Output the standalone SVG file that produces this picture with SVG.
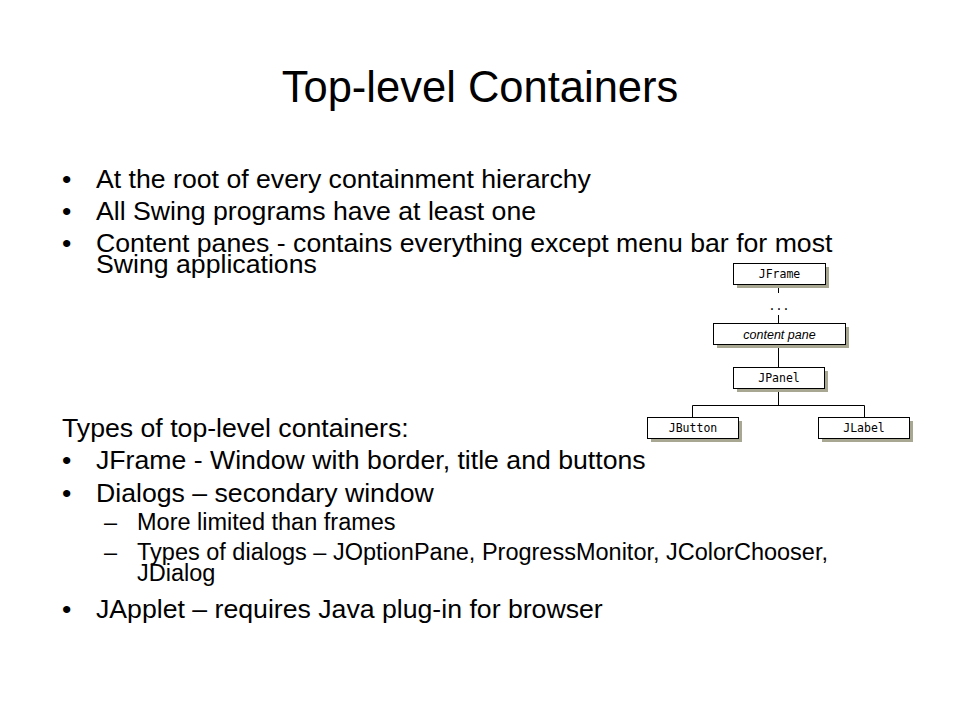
<svg xmlns="http://www.w3.org/2000/svg" width="960" height="720" viewBox="0 0 960 720">
<style>
.t{font-family:"Liberation Sans",Arial,sans-serif;fill:#000}
.b{font-size:26.67px}
.s{font-size:23.5px}
.box{fill:#fff;stroke:#000;stroke-width:1}
.sh{fill:#a8a892}
.lbl{font-family:"DejaVu Sans Mono","Liberation Mono",monospace;font-size:11.5px;fill:#000;text-anchor:middle}
.it{font-family:"Liberation Sans",Arial,sans-serif;font-style:italic;font-size:12.5px;fill:#000;text-anchor:middle}
.ln{stroke:#000;stroke-width:1;fill:none}
</style>
<rect width="960" height="720" fill="#fff"/>
<text class="t" x="480" y="102" font-size="43.5" text-anchor="middle">Top-level Containers</text>
<g id="bullets">
<text class="t b" x="62" y="188">•</text><text class="t b" x="96" y="188">At the root of every containment hierarchy</text>
<text class="t b" x="62" y="220">•</text><text class="t b" x="96" y="220">All Swing programs have at least one</text>
<text class="t b" x="62" y="252">•</text><text class="t b" x="96" y="252">Content panes - contains everything except menu bar for most</text>
<text class="t b" x="96" y="273">Swing applications</text>
<text class="t b" x="62" y="437">Types of top-level containers:</text>
<text class="t b" x="62" y="469">•</text><text class="t b" x="96" y="469">JFrame - Window with border, title and buttons</text>
<text class="t b" x="62" y="502">•</text><text class="t b" x="96" y="502">Dialogs – secondary window</text>
<text class="t s" x="104" y="530">–</text><text class="t s" x="137" y="530">More limited than frames</text>
<text class="t s" x="104" y="560">–</text><text class="t s" x="137" y="560">Types of dialogs – JOptionPane, ProgressMonitor, JColorChooser,</text>
<text class="t s" x="137" y="581">JDialog</text>
<text class="t b" x="62" y="618">•</text><text class="t b" x="96" y="618">JApplet – requires Java plug-in for browser</text>
</g>
<g id="connectors">
<path class="ln" d="M778.5 284V293M778.5 315V323M778.5 344V367M778.5 388V405.5M692.5 405.5H864.5M692.5 405.5V417M864.5 405.5V417"/>
<text class="lbl" x="779" y="310" font-size="13">...</text>
</g>
<g id="jframe">
<rect class="sh" x="737" y="267" width="92" height="21"/>
<rect class="box" x="733.5" y="263.5" width="92" height="21"/>
<text class="lbl" x="779.5" y="278">JFrame</text>
</g>
<g id="contentpane">
<rect class="sh" x="717" y="327" width="132" height="21"/>
<rect class="box" x="713.5" y="323.5" width="132" height="21"/>
<text class="it" x="779.5" y="338.5">content pane</text>
</g>
<g id="jpanel">
<rect class="sh" x="737" y="371" width="91" height="21"/>
<rect class="box" x="733.5" y="367.5" width="91" height="21"/>
<text class="lbl" x="779" y="382">JPanel</text>
</g>
<g id="jbutton">
<rect class="sh" x="651" y="421" width="91" height="21"/>
<rect class="box" x="647.5" y="417.5" width="91" height="21"/>
<text class="lbl" x="693" y="432">JButton</text>
</g>
<g id="jlabel">
<rect class="sh" x="822" y="421" width="91" height="21"/>
<rect class="box" x="818.5" y="417.5" width="91" height="21"/>
<text class="lbl" x="864" y="432">JLabel</text>
</g>
</svg>
